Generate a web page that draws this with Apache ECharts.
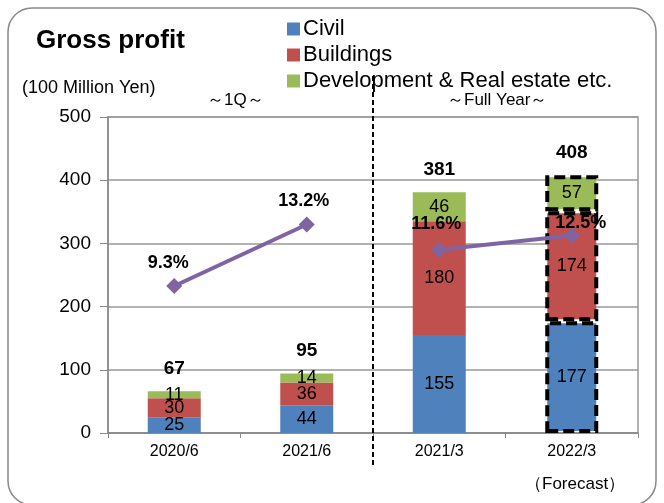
<!DOCTYPE html>
<html>
<head>
<meta charset="utf-8">
<script src="https://cdn.jsdelivr.net/npm/echarts@6/dist/echarts.min.js"></script>
<style>
  html, body { margin: 0; padding: 0; background: #fff; }
  #main { width: 664px; height: 503px; }
</style>
</head>
<body>
<div id="main"></div>
<script>
var categories = ['2020/6', '2021/6', '2021/3', '2022/3'];
var civil = [25, 44, 155, 177];
var buildings = [30, 36, 180, 174];
var development = [11, 14, 46, 57];
var totals = [67, 95, 381, 408];
var marginQ = [9.3, 13.2, '-', '-'];
var marginYear = ['-', '-', 11.6, 12.5];
var yTicks = [0, 100, 200, 300, 400, 500];

var font = '"Liberation Sans", Arial, sans-serif';
var chart = echarts.init(document.getElementById('main'));

// nudges for the % labels so they sit like the original
var pctLabelOffsets = [[-6, -1], [-3, -1], [-3, -4], [9, 10]];

// 2022/3 is the forecast: dashed black frame around each piece
function withFrame(arr) {
    return arr.map(function (v, i) {
        if (i === arr.length - 1) {
            return {
                value: v,
                itemStyle: { borderColor: '#000', borderWidth: 4, borderType: [11, 5] }
            };
        }
        return v;
    });
}

function barSeries(name, data, color) {
    return {
        name: name,
        type: 'bar',
        stack: 'gp',
        barWidth: '40%',
        data: withFrame(data),
        itemStyle: { color: color },
        label: {
            show: true,
            position: 'inside',
            color: '#000',
            fontSize: 18,
            fontFamily: font
        },
        z: 2
    };
}

function lineSeries(data) {
    return {
        type: 'line',
        yAxisIndex: 1,
        data: data.map(function (v, i) {
            if (v === '-') return v;
            return { value: v, label: { offset: pctLabelOffsets[i] } };
        }),
        symbol: 'diamond',
        symbolSize: 16,
        lineStyle: { color: '#8064A2', width: 4 },
        itemStyle: { color: '#8064A2' },
        label: {
            show: true,
            position: 'top',
            distance: 5,
            formatter: '{c}%',
            color: '#000',
            fontSize: 18,
            fontWeight: 'bold',
            fontFamily: font
        },
        z: 5
    };
}

var option = {
    animation: false,
    textStyle: { fontFamily: font },
    grid: { left: 108, right: 26, top: 117, bottom: 70, show: true, borderColor: '#999', borderWidth: 1.5 },
    legend: {
        orient: 'vertical',
        left: 282,
        top: 13,
        icon: 'rect',
        itemWidth: 13,
        itemHeight: 13,
        itemGap: 4,
        textStyle: { fontSize: 22, color: '#000', fontFamily: font, padding: [0, 0, 0, -2] },
        data: ['Civil', 'Buildings', 'Development & Real estate etc.']
    },
    xAxis: {
        type: 'category',
        data: categories,
        axisLine: { lineStyle: { color: '#888', width: 1.5 } },
        axisTick: { show: true, length: 5, lineStyle: { color: '#888' } },
        axisLabel: { color: '#000', fontSize: 16, margin: 11 }
    },
    yAxis: [{
        type: 'value',
        min: yTicks[0],
        max: yTicks[yTicks.length - 1],
        interval: 100,
        axisLine: { show: true, lineStyle: { color: '#888', width: 1.5 } },
        axisTick: { show: true, length: 8, lineStyle: { color: '#888' } },
        axisLabel: { color: '#000', fontSize: 19, margin: 17 },
        splitLine: { lineStyle: { color: '#999', width: 1.5 } }
    }, {
        type: 'value',
        min: 0,
        max: 20,
        show: false,
        splitLine: { show: false }
    }],
    series: [
        barSeries('Civil', civil, '#4F81BD'),
        barSeries('Buildings', buildings, '#C0504D'),
        barSeries('Development & Real estate etc.', development, '#9BBB59'),
        {
            type: 'scatter',
            data: totals,
            symbolSize: 1,
            itemStyle: { color: 'rgba(0,0,0,0)', opacity: 1 },
            label: {
                show: true,
                position: 'top',
                distance: 12,
                color: '#000',
                fontSize: 19,
                fontWeight: 'bold',
                fontFamily: font
            },
            z: 6
        },
        lineSeries(marginQ),
        lineSeries(marginYear)
    ],
    graphic: [
        {
            type: 'rect',
            shape: { x: 8, y: 8, width: 648, height: 497, r: 24 },
            style: { fill: 'none', stroke: '#888', lineWidth: 1.5 },
            silent: true
        },
        {
            type: 'text', left: 36, top: 28,
            style: { text: 'Gross profit', fontSize: 26, fontWeight: 'bold', fill: '#000', fontFamily: font }
        },
        {
            type: 'text', left: 22, top: 79,
            style: { text: '(100 Million Yen)', fontSize: 18, fill: '#000', fontFamily: font }
        },
        {
            type: 'text', left: 207, top: 92,
            style: { text: '～1Q～', fontSize: 17, fill: '#000', fontFamily: font }
        },
        {
            type: 'text', left: 447, top: 92,
            style: { text: '～Full Year～', fontSize: 17, fill: '#000', fontFamily: font }
        },
        {
            type: 'text', left: 525, top: 476,
            style: { text: '（Forecast）', fontSize: 17, fill: '#000', fontFamily: font }
        },
        {
            type: 'line',
            shape: { x1: 373, y1: 76, x2: 373, y2: 465 },
            style: { stroke: '#000', lineWidth: 2, lineDash: [5, 3] },
            z: 10
        }
    ]
};

chart.setOption(option);
</script>
</body>
</html>
